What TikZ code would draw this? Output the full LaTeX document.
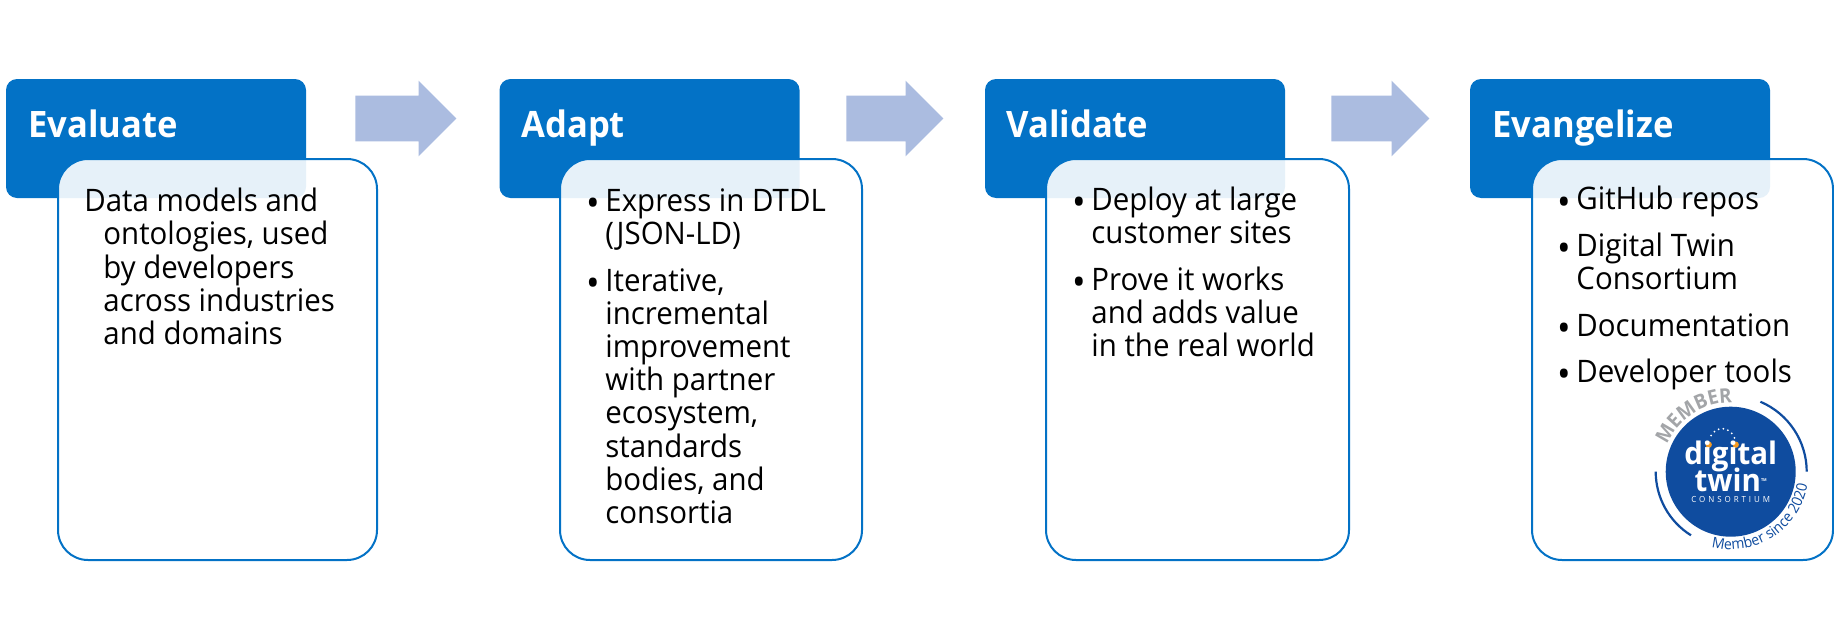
\documentclass[tikz,border=0pt]{standalone}
\usepackage{fontspec}
\setmainfont[FakeStretch=0.95]{Open Sans}
\usetikzlibrary{shapes.arrows,decorations.text}
\definecolor{headblue}{HTML}{0372C6}
\definecolor{arrowblue}{HTML}{ABBCE0}
\definecolor{logoblue}{HTML}{0F4C9F}
\definecolor{logoorange}{HTML}{F59B23}
\definecolor{logogray}{HTML}{A3A5A8}
\newcommand{\bl}{\makebox[9.5pt][l]{\raisebox{-2.6pt}{\fontsize{19}{19}\selectfont •}}}
\newcommand{\il}{\hspace*{9.5pt}}
\tikzset{
  header/.style={rectangle,fill=headblue,rounded corners=5.5pt,minimum width=150pt,minimum height=59.5pt,inner sep=0pt,outer sep=0pt},
  card/.style={rectangle,draw=headblue,line width=1pt,fill=white,fill opacity=.9,rounded corners=15pt,minimum height=200.5pt,inner sep=0pt,outer sep=0pt},
  headtext/.style={anchor=base west,inner sep=0pt,text=white,font=\fontsize{18.2}{20}\selectfont\bfseries},
  bodytext/.style={anchor=base west,inner sep=0pt,align=left,text=black,font=\fontsize{15.5}{16.6}\selectfont},
  blockarrow/.style={single arrow,fill=arrowblue,single arrow tip angle=90,single arrow head extend=7.5pt,single arrow head indent=0pt,minimum width=37.5pt,inner sep=0pt,outer sep=0pt},
  logotext/.style={inner sep=0pt,text=white,anchor=base},
  logoarc/.style={draw=logoblue,line width=1.1pt},
}
\newcommand{\shaft}{\rule[-11.25pt]{0pt}{22.5pt}}
\begin{document}
\begin{tikzpicture}[x=0.5pt,y=-0.5pt]
\useasboundingbox (0,0) rectangle (1834,637);
% step 1
\node[header] (h1) at (156,138.5) {};
\node[card,minimum width=159.5pt] (c1) at (217.5,359.5) {};
\node[headtext] (t1) at (28,137) {Evaluate};
\node[bodytext] (b1) at (84,344.5) {Data models and\\\hspace*{9.5pt}ontologies, used\\\hspace*{9.5pt}by developers\\\hspace*{9.5pt}across industries\\\hspace*{9.5pt}and domains};
% step 2
\node[header] (h2) at (649.5,138.5) {};
\node[card,minimum width=151pt] (c2) at (711,359.5) {};
\node[headtext] (t2) at (521,137) {Adapt};
\node[bodytext] (b2) at (586,523.5) {\bl Express in DTDL\\\il(JSON-LD)\\[6.65pt]\bl Iterative,\\\il incremental\\\il improvement\\\il with partner\\\il ecosystem,\\\il standards\\\il bodies, and\\\il consortia};
% step 3
\node[header] (h3) at (1135,138.5) {};
\node[card,minimum width=151.5pt] (c3) at (1197.5,359.5) {};
\node[headtext] (t3) at (1006,137) {Validate};
\node[bodytext] (b3) at (1072,356.5) {\bl Deploy at large\\\il customer sites\\[6.65pt]\bl Prove it works\\\il and adds value\\\il in the real world};
% step 4
\node[header] (h4) at (1620,138.5) {};
\node[card,minimum width=150.5pt] (c4) at (1682.5,359.5) {};
\node[headtext] (t4) at (1492,137) {Evangelize};
\node[bodytext] (b4) at (1557,382.5) {\bl GitHub repos\\[6.65pt]\bl Digital Twin\\\il Consortium\\[6.65pt]\bl Documentation\\[6.65pt]\bl Developer tools};
% arrows
\node[blockarrow,minimum height=50.5pt] (a1) at (394.5,118.5) {\shaft};
\node[blockarrow,minimum height=48.5pt] (a2) at (883.5,118.5) {\shaft};
\node[blockarrow,minimum height=49pt] (a3) at (1369,118.5) {\shaft};
% logo
\begin{scope}[shift={(1730.7,471.7)},x=0.5pt,y=0.5pt]
  \fill[logoblue] (0,0) circle (65);
  \draw[logoarc] (67:76) arc (67:0:76);
  \draw[logoarc] (180:75) arc (180:238:75);
  \fill[logoorange] (-22,27) circle (3.2);
  \fill[logoorange] (5,27) circle (3.2);
  \foreach \a in {25,45,...,155}{\fill[white] ({-8.5+13.5*cos(\a)},{27+16*sin(\a)}) circle (1);}
  \node[logotext,font=\fontsize{15.5}{16}\selectfont\bfseries] (ldigital) at (0,7) {digital};
  \node[logotext,font=\fontsize{15.5}{16}\selectfont\bfseries] (ltwin) at (0,-20) {twin\raisebox{5pt}{\fontsize{2}{2}\selectfont TM}};
  \node[logotext,font=\fontsize{4.2}{5}\selectfont\addfontfeature{LetterSpace=35}] (lcons) at (0,-31) {CONSORTIUM};
  \path[decorate,decoration={text along path,text align=center,text={|\fontsize{10}{10}\selectfont\color{logogray}\bfseries|MEMBER}}] (158:69) arc (158:88:69);
  \path[decorate,decoration={text along path,text align=center,text={|\fontsize{7.4}{8}\selectfont\color{logoblue}|Member since 2020}}] (-112:78) arc (-112:-2:78);
\end{scope}
\end{tikzpicture}
\end{document}
